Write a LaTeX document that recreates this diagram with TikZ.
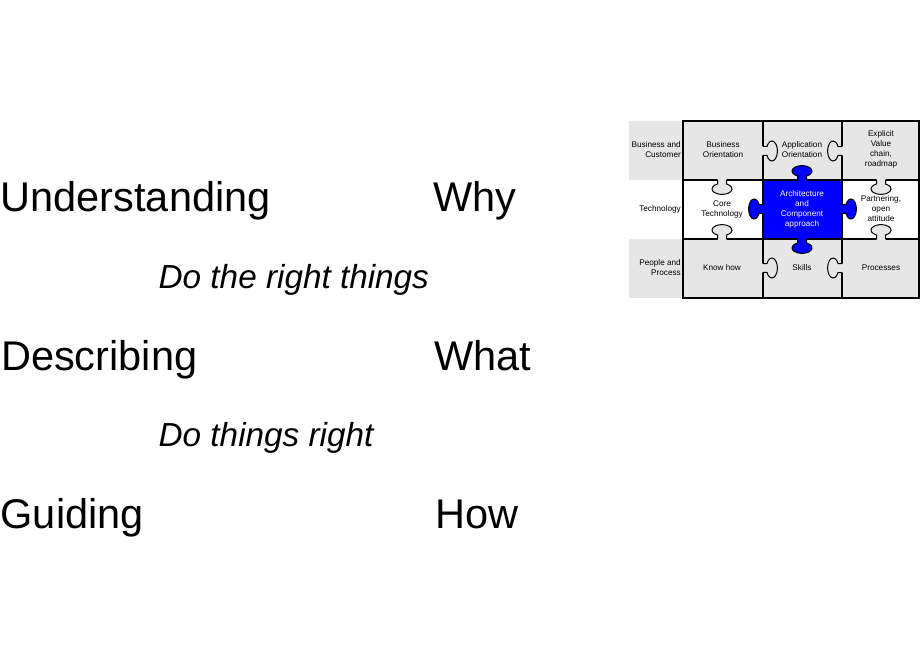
\documentclass[tikz,border=0pt]{standalone}
\usepackage{fontspec}
\setmainfont{Liberation Sans}
\definecolor{cellgrey}{RGB}{230,230,230}
\definecolor{archblue}{RGB}{0,0,255}
\tikzset{
  big/.style={inner sep=0pt, anchor=base west, font=\fontsize{41.5}{49}\selectfont},
  motto/.style={inner sep=0pt, anchor=base west, font=\fontsize{33.3}{40}\selectfont\itshape},
  small/.style={inner sep=0pt, align=center, font=\fontsize{8.2}{10}\selectfont},
  rowlabel/.style={inner sep=0pt, align=right, anchor=east, font=\fontsize{8.2}{10}\selectfont},
  gridline/.style={draw=black, line width=1.2pt},
  knobline/.style={draw=black, line width=1pt},
}
\newcommand\pzknob[4]{%
  \begin{scope}[shift={(#1,#2)},rotate=#3]
    \fill[#4] (-1,-4.5) -- (4,-4.5) arc[start angle=206.7,end angle=513.3,x radius=5.5,y radius=10] -- (-1,4.5) -- cycle;
    \draw[knobline] (0,-4.5) -- (4,-4.5) arc[start angle=206.7,end angle=513.3,x radius=5.5,y radius=10] -- (0,4.5);
  \end{scope}}
\begin{document}
\begin{tikzpicture}[x=1pt,y=-1pt]
\useasboundingbox[fill=white] (0,0) rectangle (920,660);
% left text
\node[big] (und) at (0.5,212) {Understanding};
\node[big] (why) at (433,212) {Why};
\node[motto] (right1) at (158.5,288) {Do the right things};
\node[big] (des) at (1,370) {Describing};
\node[big] (what) at (434,370) {What};
\node[motto] (right2) at (158.5,446) {Do things right};
\node[big] (gui) at (0.5,528) {Guiding};
\node[big] (how) at (435,528) {How};
% puzzle: row label column
\fill[cellgrey] (629,121) rectangle (683,180);
\fill[cellgrey] (629,239) rectangle (683,298);
% cells
\filldraw[gridline, fill=cellgrey] (683,121) rectangle (763,180);
\filldraw[gridline, fill=cellgrey] (763,121) rectangle (842,180);
\filldraw[gridline, fill=cellgrey] (842,121) rectangle (919,180);
\filldraw[gridline, fill=white] (683,180) rectangle (763,239);
\filldraw[gridline, fill=archblue] (763,180) rectangle (842,239);
\filldraw[gridline, fill=white] (842,180) rectangle (919,239);
\filldraw[gridline, fill=cellgrey] (683,239) rectangle (763,298);
\filldraw[gridline, fill=cellgrey] (763,239) rectangle (842,298);
\filldraw[gridline, fill=cellgrey] (842,239) rectangle (919,298);
% knobs
\pzknob{763}{151}{0}{cellgrey}
\pzknob{842}{151}{180}{cellgrey}
\pzknob{722}{180}{-90}{cellgrey}
\pzknob{881}{180}{-90}{cellgrey}
\pzknob{802}{180}{90}{archblue}
\pzknob{763}{209}{180}{archblue}
\pzknob{842}{209}{0}{archblue}
\pzknob{802}{239}{-90}{archblue}
\pzknob{722}{239}{90}{cellgrey}
\pzknob{881}{239}{90}{cellgrey}
\pzknob{763}{268}{0}{cellgrey}
\pzknob{842}{268}{180}{cellgrey}
% texts
\node[rowlabel] (bc) at (681,150) {Business and\\Customer};
\node[rowlabel] (tech) at (681,209.5) {Technology};
\node[rowlabel] (pp) at (681,268) {People and\\Process};
\node[small] (bo) at (723,150) {Business\\Orientation};
\node[small] (ao) at (802,150) {Application\\Orientation};
\node[small] (ev) at (881,149) {Explicit\\Value\\chain,\\roadmap};
\node[small] (ct) at (722,209) {Core\\Technology};
\node[small, text=white] (ac) at (802,209) {Architecture\\and\\Component\\approach};
\node[small] (po) at (881,209) {Partnering,\\open\\attitude};
\node[small] (kh) at (722,268) {Know how};
\node[small] (sk) at (802,268) {Skills};
\node[small] (pr) at (881,268) {Processes};
\end{tikzpicture}
\end{document}
